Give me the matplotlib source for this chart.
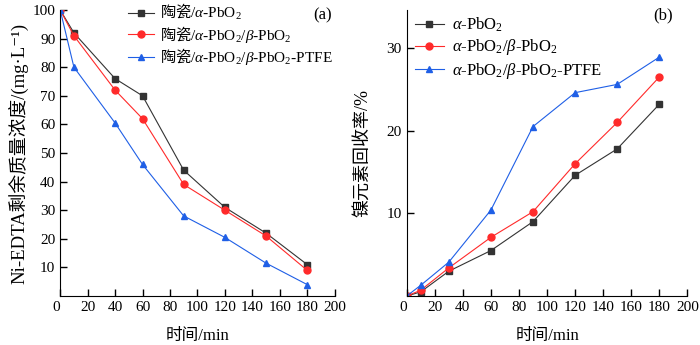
import matplotlib
matplotlib.use('Agg')
import matplotlib.pyplot as plt
from matplotlib.font_manager import FontProperties

plt.rcParams['font.family'] = ['Liberation Serif', 'Noto Sans CJK SC', 'DejaVu Serif']
plt.rcParams['mathtext.fontset'] = 'custom'
plt.rcParams['mathtext.rm'] = 'Liberation Serif'
plt.rcParams['mathtext.it'] = 'Liberation Serif:italic'
plt.rcParams['mathtext.bf'] = 'Liberation Serif:bold'
plt.rcParams['axes.unicode_minus'] = False

# (a) residual Ni-EDTA concentration
t_a = [0, 10, 40, 60, 90, 120, 150, 180]
conc_alpha = [100, 92, 76, 70, 44, 31, 22, 11]
conc_ab = [100, 91, 72, 62, 39, 30, 21, 9]
conc_ptfe = [100, 80, 60.5, 46, 28, 20.5, 11.5, 4]

# (b) nickel recovery
t_b = [0, 10, 30, 60, 90, 120, 150, 180]
rec_alpha = [0, 0.5, 3, 5.5, 9, 14.6, 17.8, 23.2]
rec_ab = [0, 0.7, 3.4, 7.1, 10.2, 16, 21, 26.5]
rec_ptfe = [0, 1.3, 4.1, 10.4, 20.5, 24.6, 25.6, 28.9]

labels_a = [r'陶瓷$/\alpha\text{-PbO}_2$',
            r'陶瓷$/\alpha\text{-PbO}_2/\beta\text{-PbO}_2$',
            r'陶瓷$/\alpha\text{-PbO}_2/\beta\text{-PbO}_2\text{-PTFE}$']
labels_b = [r'$\alpha\text{-PbO}_2$',
            r'$\alpha\text{-PbO}_2/\beta\text{-PbO}_2$',
            r'$\alpha\text{-PbO}_2/\beta\text{-PbO}_2\text{-PTFE}$']
colors = ['#333333', '#ff2a2a', '#1f5fe6']
markers = ['s', 'o', '^']

fig = plt.figure(figsize=(7, 3.45), dpi=100)
ax1 = fig.add_axes([0.086, 0.142, 0.392, 0.829])
ax2 = fig.add_axes([0.581, 0.142, 0.401, 0.829])

for ys, lab, c, m in zip([conc_alpha, conc_ab, conc_ptfe], labels_a, colors, markers):
    ax1.plot(t_a, ys, color=c, marker=m, ms=5, lw=0.8, label=lab)
for ys, lab, c, m in zip([rec_alpha, rec_ab, rec_ptfe], labels_b, colors, markers):
    ax2.plot(t_b, ys, color=c, marker=m, ms=5, lw=0.8, label=lab)

ax1.set_xlim(0, 200)
ax1.set_ylim(0, 100)
ax1.set_xticks(range(0, 201, 20))
ax1.set_yticks(range(10, 101, 10))
ax1.set_ylabel('Ni-EDTA剩余质量浓度/(mg·L⁻¹)', fontsize=13.5, labelpad=2)
ax1.set_xlabel('时间/min', fontsize=12, labelpad=10)
ax1.text(0.955, 1.01, '(a)', transform=ax1.transAxes, ha='center', va='top', fontsize=12)

ax2.set_xlim(0, 200)
ax2.set_ylim(0, 34.6)
ax2.set_xticks(range(0, 201, 20))
ax2.set_yticks([10, 20, 30])
ax2.set_ylabel('镍元素回收率/%', fontsize=13, labelpad=11)
ax2.set_xlabel('时间/min', fontsize=12, labelpad=10)
ax2.text(0.915, 1.01, '(b)', transform=ax2.transAxes, ha='center', va='top', fontsize=12)

for ax in (ax1, ax2):
    ax.spines['top'].set_visible(False)
    ax.spines['right'].set_visible(False)
    ax.tick_params(direction='in', length=5, labelsize=11, width=1)
    ax.get_xticklabels()[0].set_horizontalalignment('right')

ax1.legend(loc='upper left', bbox_to_anchor=(0.215, 1.06), frameon=False,
           prop=FontProperties(family='Noto Sans CJK SC', size=11),
           handlelength=1.7, handletextpad=0.4, labelspacing=0.1, borderaxespad=0.2)
ax2.legend(loc='upper left', bbox_to_anchor=(-0.005, 1.015), frameon=False, fontsize=12,
           handlelength=1.7, handletextpad=0.5, labelspacing=0.2, borderaxespad=0.2)

fig.savefig('out.png', dpi=100)
